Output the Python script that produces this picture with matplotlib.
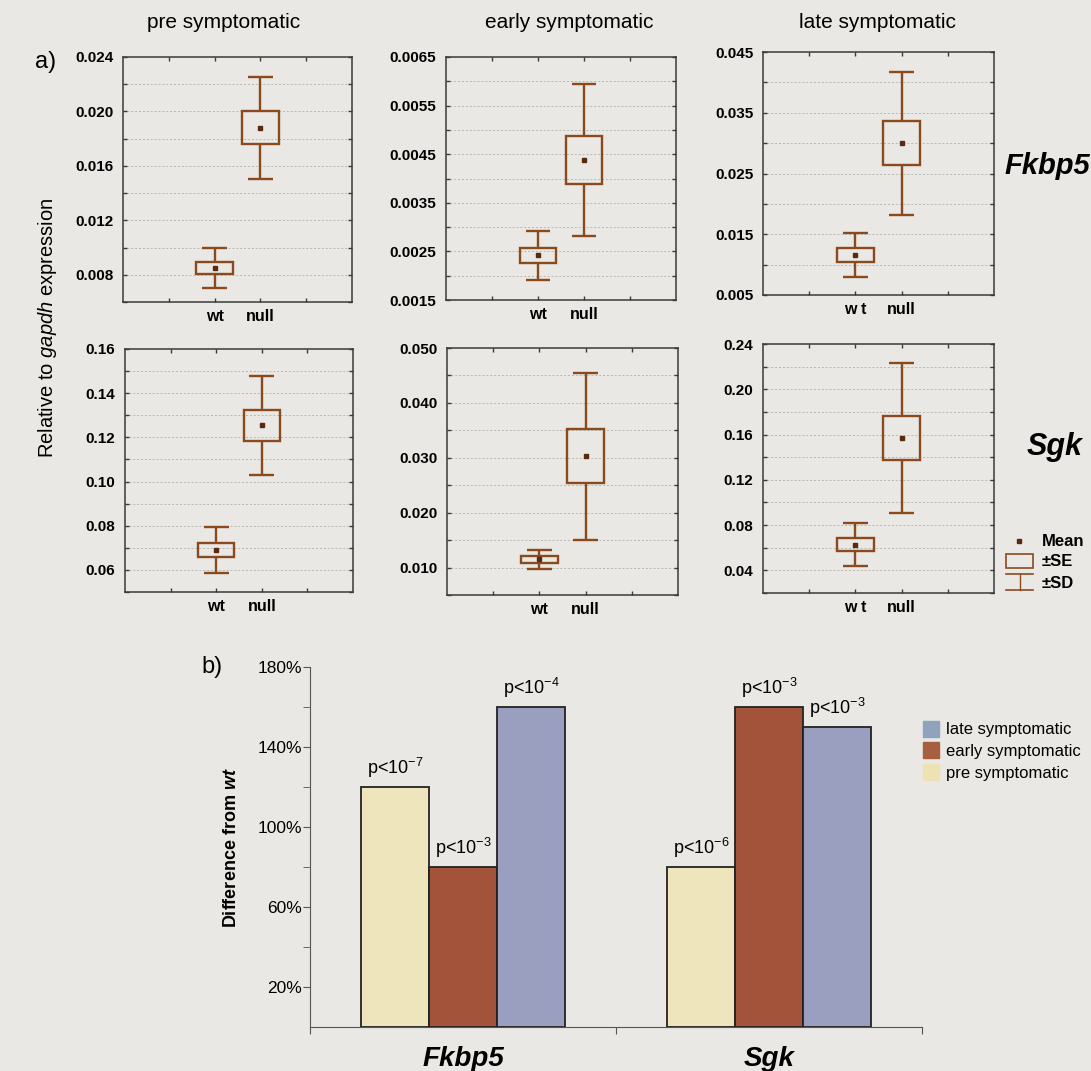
import numpy as np
import matplotlib
matplotlib.use("Agg")
import matplotlib.pyplot as plt
from matplotlib.patches import Rectangle, Patch

plt.rcParams['font.family'] = ['Liberation Sans', 'DejaVu Sans']
plt.rcParams['mathtext.fontset'] = 'custom'
plt.rcParams['mathtext.rm'] = 'Liberation Sans'
plt.rcParams['mathtext.it'] = 'Liberation Sans:italic'
plt.rcParams['mathtext.bf'] = 'Liberation Sans:bold'
plt.rcParams['mathtext.bfit'] = 'Liberation Sans:bold:italic'

# ===== datos (a): media, error estándar y desviación estándar =====
stages = ["pre symptomatic", "early symptomatic", "late symptomatic"]
groups = ["wt", "null"]

fkbp5_mean = [[0.0085, 0.0188], [0.00242, 0.00438], [0.0116, 0.0300]]
fkbp5_se   = [[0.00045, 0.0012], [0.00016, 0.0005], [0.00115, 0.00365]]
fkbp5_sd   = [[0.0015, 0.00375], [0.0005, 0.00157], [0.00368, 0.01175]]

sgk_mean = [[0.069, 0.1254], [0.0115, 0.0303], [0.0627, 0.157]]
sgk_se   = [[0.0031, 0.0070], [0.0006, 0.0049], [0.0057, 0.0198]]
sgk_sd   = [[0.0102, 0.0224], [0.0017, 0.0152], [0.0192, 0.0659]]

# ===== datos (b): diferencia respecto a wt =====
bar_genes = ["Fkbp5", "Sgk"]
pre_pct   = [120, 80]
early_pct = [80, 160]
late_pct  = [160, 150]
p_pre   = [7, 6]
p_early = [3, 3]
p_late  = [4, 3]

# escalas de cada panel
fkbp5_ylim  = [(0.006, 0.024), (0.0015, 0.0065), (0.005, 0.045)]
fkbp5_first = [0.008, 0.0015, 0.005]
fkbp5_step  = [0.004, 0.001, 0.01]
fkbp5_dec   = [3, 4, 3]
sgk_ylim  = [(0.05, 0.16), (0.005, 0.05), (0.02, 0.24)]
sgk_first = [0.06, 0.01, 0.04]
sgk_step  = [0.02, 0.01, 0.04]
sgk_dec   = [2, 3, 2]

W, H = 1091, 1071
BG = '#e9e8e4'
BOX = '#8a4a1e'
SPINE = '#3a3a3a'

fig = plt.figure(figsize=(W/100, H/100), dpi=100, facecolor=BG)

def px_axes(l, t, r, b):
    return fig.add_axes([l/W, 1 - b/H, (r - l)/W, (b - t)/H])

def fx(x): return x / W
def fy(y): return 1 - y / H

def box_panel(ax, means, ses, sds, ylim, first, step, dec, xlabels):
    ax.set_facecolor('none')
    xs = [2, 3]
    for x, m, se, sd in zip(xs, means, ses, sds):
        kw = dict(color=BOX, lw=1.7, solid_capstyle='butt')
        ax.plot([x, x], [m - sd, m - se], **kw)
        ax.plot([x, x], [m + se, m + sd], **kw)
        ax.plot([x - 0.27, x + 0.27], [m - sd] * 2, **kw)
        ax.plot([x - 0.27, x + 0.27], [m + sd] * 2, **kw)
        ax.add_patch(Rectangle((x - 0.4, m - se), 0.8, 2 * se, fill=False,
                               ec=BOX, lw=1.7))
        ax.plot(x, m, 's', ms=2.6, color='#5a2a10', mec='#5a2a10')
    ax.set_xlim(0, 5)
    ax.set_ylim(*ylim)
    major = np.arange(first, ylim[1] + step * 1e-3, step)
    minor = np.arange(ylim[0], ylim[1] + step * 1e-3, step / 2)
    ax.set_yticks(major, [f"{v:.{dec}f}" for v in major])
    ax.set_yticks(minor, minor=True)
    for v in minor:
        if ylim[0] < v < ylim[1] - step * 1e-3:
            ax.axhline(v, color='#b8b8b4', lw=0.7, ls=(0, (2, 2)), zorder=0)
    ax.set_xticks([1, 2, 3, 4], ['', xlabels[0], xlabels[1], ''])
    ax.tick_params(which='both', direction='in', length=3, width=1,
                   color=SPINE, top=True, right=True)
    ax.tick_params(axis='y', labelsize=11, pad=7)
    ax.tick_params(axis='x', labelsize=11.5, pad=5)
    for lab in ax.get_xticklabels() + ax.get_yticklabels():
        lab.set_fontweight('bold')
    for s in ax.spines.values():
        s.set_color(SPINE)
        s.set_linewidth(1.1)

rects_top = [(123, 57, 352, 302), (446, 57, 676, 300), (763, 52, 994, 295)]
rects_bot = [(125, 349, 353, 592), (447, 348, 678, 595), (763, 344, 994, 593)]

for i in range(3):
    xl = ["w t", "null"] if i == 2 else groups
    ax = px_axes(*rects_top[i])
    box_panel(ax, fkbp5_mean[i], fkbp5_se[i], fkbp5_sd[i], fkbp5_ylim[i],
              fkbp5_first[i], fkbp5_step[i], fkbp5_dec[i], xl)
    ax = px_axes(*rects_bot[i])
    box_panel(ax, sgk_mean[i], sgk_se[i], sgk_sd[i], sgk_ylim[i],
              sgk_first[i], sgk_step[i], sgk_dec[i], xl)

# títulos de columna y rótulos
for cx, name in zip([224, 569, 877], stages):
    fig.text(fx(cx), fy(23), name, ha='center', va='center', fontsize=15)
fig.text(fx(35), fy(62), "a)", ha='left', va='center', fontsize=17)
fig.text(fx(1004), fy(166), "Fkbp5", ha='left', va='center', fontsize=21,
         fontweight='bold', style='italic')
fig.text(fx(1027), fy(447), "Sgk", ha='left', va='center', fontsize=22,
         fontweight='bold', style='italic')
fig.text(fx(48), fy(328), r"Relative to $\mathit{gapdh}$ expression",
         rotation=90, ha='center', va='center', fontsize=14.5)

# leyenda de las cajas (Mean / ±SE / ±SD)
lg = px_axes(1000, 532, 1040, 596)
lg.set_xlim(1000, 1040)
lg.set_ylim(596, 532)
lg.axis('off')
lg.plot(1019, 541, 's', ms=2.8, color='#5a2a10')
lg.add_patch(Rectangle((1006, 554), 27, 14, fill=False, ec=BOX, lw=1.2))
lg.plot([1006, 1033], [574, 574], color=BOX, lw=1.2)
lg.plot([1006, 1033], [590, 590], color=BOX, lw=1.2)
lg.plot([1019.5, 1019.5], [574, 590], color=BOX, lw=1.0)
for y, t in zip([541, 562, 583], ["Mean", "±SE", "±SD"]):
    fig.text(fx(1042), fy(y), t, ha='left', va='center', fontsize=12,
             fontweight='bold')

# ===== (b) barras =====
PRE, EARLY, LATE = '#efe5bd', '#a3533a', '#9b9fbf'
bx = px_axes(310, 667, 922, 1027)
bx.set_facecolor('none')
pos = np.arange(len(bar_genes))
bw = 0.222
bars_pre = bx.bar(pos - bw, pre_pct, bw, color=PRE, ec='#222222', lw=1.3)
bars_early = bx.bar(pos, early_pct, bw, color=EARLY, ec='#222222', lw=1.3)
bars_late = bx.bar(pos + bw, late_pct, bw, color=LATE, ec='#222222', lw=1.3)
for bars, pv in [(bars_pre, p_pre), (bars_early, p_early), (bars_late, p_late)]:
    for b, e in zip(bars, pv):
        bx.annotate(f"p<10$^{{-{e}}}$", (b.get_x() + b.get_width() / 2, b.get_height()),
                    xytext=(0, 5), textcoords='offset points', ha='center',
                    va='bottom', fontsize=13)
bx.set_xlim(-0.5, 1.5)
bx.set_ylim(0, 180)
bx.set_yticks([20, 60, 100, 140, 180], ["20%", "60%", "100%", "140%", "180%"])
bx.set_yticks([40, 80, 120, 160], minor=True)
bx.set_xticks([-0.5, 0.5, 1.5], ['', '', ''])
bx.set_xticks(pos, bar_genes, minor=True)
bx.tick_params(axis='x', which='major', direction='out', length=5, color='#555555')
bx.tick_params(axis='x', which='minor', length=0, pad=14, labelsize=20)
for lab in bx.get_xticklabels(minor=True):
    lab.set_fontweight('bold')
    lab.set_fontstyle('italic')
bx.tick_params(axis='y', which='both', direction='out', length=5,
               color='#555555', labelsize=12.5, pad=1)
bx.spines[['top', 'right']].set_visible(False)
bx.spines['left'].set_color('#555555')
bx.spines['bottom'].set_color('#555555')
fig.text(fx(232), fy(848), r"Difference from $\mathbfit{wt}$", rotation=90,
         ha='center', va='center', fontsize=13, fontweight='bold')
fig.text(fx(201), fy(667), "b)", ha='left', va='center', fontsize=17)

handles = [Patch(color='#8fa3be', label='late symptomatic'),
           Patch(color='#a7603f', label='early symptomatic'),
           Patch(color='#eee2b2', label='pre symptomatic')]
fig.legend(handles=handles, loc='upper left', bbox_to_anchor=(fx(916), fy(714)),
           frameon=False, fontsize=12, handlelength=1.0, handleheight=1.1,
           handletextpad=0.4, labelspacing=0.3, borderaxespad=0)

fig.savefig("out.png", dpi=100, facecolor=BG)
